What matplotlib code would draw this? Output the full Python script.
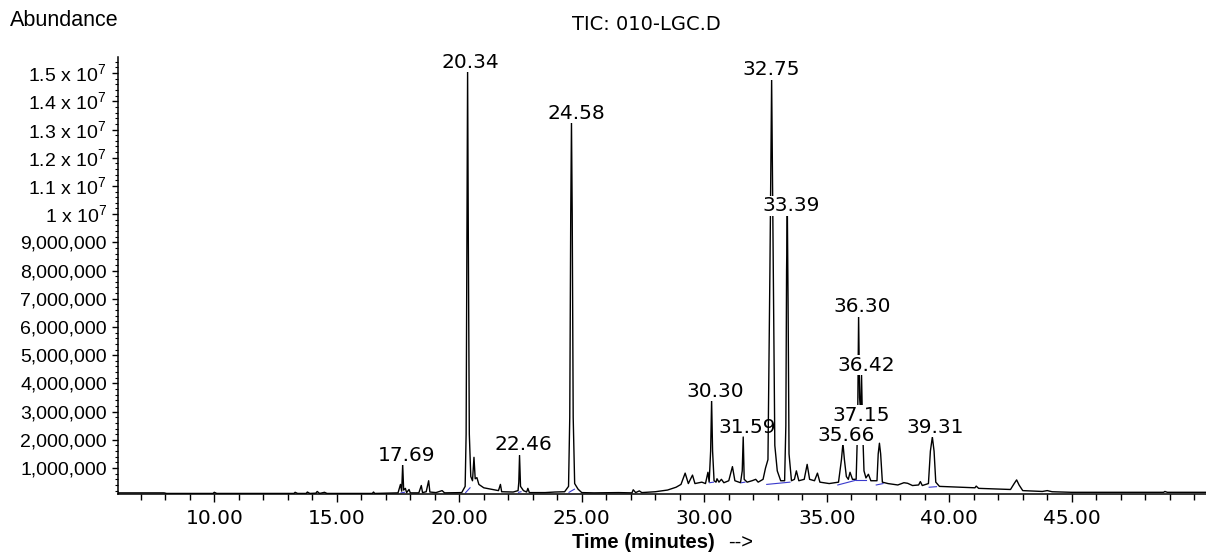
import numpy as np
import matplotlib
matplotlib.use("Agg")
import matplotlib.pyplot as plt
from matplotlib.ticker import MultipleLocator, FixedLocator, FuncFormatter

plt.rcParams['mathtext.fontset'] = 'custom'
plt.rcParams['mathtext.rm'] = 'Liberation Sans'

# TIC trace vertices (time in min, abundance in millions)
trace_time = [6.07, 7.95, 8.05, 9.95, 10.0, 10.1, 13.25, 13.3, 13.4, 13.75, 13.8, 13.9,
              14.15, 14.2, 14.3, 14.5, 14.6, 16.45, 16.5, 16.55, 17.5, 17.6, 17.65, 17.69,
              17.73, 17.8, 17.85, 17.95, 18.0, 18.35, 18.45, 18.5, 18.65, 18.75, 18.8, 19.05,
              19.3, 19.4, 20.1, 20.24, 20.28, 20.31, 20.34, 20.37, 20.41, 20.47, 20.54, 20.6,
              20.65, 20.72, 20.8, 21.0, 21.3, 21.6, 21.68, 21.73, 22.2, 22.4, 22.43, 22.46,
              22.5, 22.62, 22.75, 22.8, 22.86, 23.5, 23.9, 24.3, 24.46, 24.51, 24.55, 24.58,
              24.61, 24.65, 24.71, 24.85, 25.0, 25.5, 26.5, 27.05, 27.1, 27.2, 27.35, 27.45,
              28.0, 28.5, 28.85, 29.05, 29.22, 29.35, 29.52, 29.62, 29.9, 30.05, 30.15, 30.2,
              30.26, 30.3, 30.34, 30.4, 30.48, 30.52, 30.6, 30.7, 30.8, 31.0, 31.15, 31.25,
              31.48, 31.55, 31.59, 31.63, 31.75, 31.95, 32.1, 32.2, 32.4, 32.5, 32.6, 32.68,
              32.75, 32.82, 32.88, 32.98, 33.12, 33.28, 33.33, 33.36, 33.39, 33.42, 33.46, 33.56,
              33.68, 33.76, 33.86, 34.08, 34.2, 34.3, 34.5, 34.62, 34.72, 35.1, 35.48, 35.6,
              35.66, 35.72, 35.8, 35.88, 35.95, 36.05, 36.2, 36.26, 36.3, 36.34, 36.38, 36.42,
              36.46, 36.52, 36.6, 36.7, 36.8, 37.05, 37.1, 37.15, 37.2, 37.27, 37.5, 37.9,
              38.15, 38.3, 38.5, 38.75, 38.82, 38.9, 39.15, 39.23, 39.31, 39.38, 39.45, 39.6,
              40.5, 41.05, 41.1, 41.2, 42.1, 42.5, 42.65, 42.75, 42.85, 43.0, 43.8, 44.0,
              44.2, 45.0, 48.75, 48.8, 48.9, 50.48]
trace_abund = [0.12, 0.12, 0.1, 0.1, 0.14, 0.1, 0.1, 0.14, 0.1, 0.1, 0.15, 0.1,
               0.11, 0.17, 0.1, 0.14, 0.1, 0.1, 0.15, 0.1, 0.12, 0.42, 0.18, 1.13,
               0.22, 0.28, 0.13, 0.24, 0.12, 0.12, 0.38, 0.13, 0.16, 0.55, 0.15, 0.13,
               0.2, 0.12, 0.13, 0.35, 2.2, 9.0, 15.1, 9.0, 2.2, 0.7, 0.55, 1.38,
               0.62, 0.66, 0.42, 0.3, 0.25, 0.2, 0.42, 0.16, 0.15, 0.2, 0.5, 1.45,
               0.35, 0.2, 0.15, 0.28, 0.13, 0.13, 0.15, 0.16, 0.35, 2.8, 10.0, 13.26,
               10.0, 2.8, 0.45, 0.25, 0.13, 0.12, 0.13, 0.12, 0.23, 0.13, 0.19, 0.13,
               0.16, 0.22, 0.32, 0.42, 0.82, 0.45, 0.75, 0.45, 0.5, 0.45, 0.85, 0.5,
               1.6, 3.4, 1.6, 0.55, 0.5, 0.62, 0.5, 0.6, 0.48, 0.55, 1.05, 0.55,
               0.48, 0.9, 2.1, 0.6, 0.5, 0.55, 0.6, 0.5, 0.6, 1.0, 1.3, 8.0,
               14.8, 8.0, 1.8, 0.9, 0.55, 0.55, 2.5, 8.0, 10.25, 7.0, 1.5, 0.55,
               0.6, 0.9, 0.55, 0.6, 1.13, 0.6, 0.55, 0.82, 0.5, 0.45, 0.5, 1.3,
               1.88, 1.3, 0.7, 0.6, 0.85, 0.6, 0.6, 2.5, 6.42, 3.5, 3.0, 4.3,
               2.5, 0.9, 0.65, 0.78, 0.55, 0.55, 1.5, 1.88, 1.5, 0.5, 0.45, 0.4,
               0.48, 0.46, 0.38, 0.4, 0.52, 0.38, 0.45, 1.6, 2.1, 1.6, 0.5, 0.35,
               0.32, 0.3, 0.36, 0.28, 0.25, 0.24, 0.45, 0.58, 0.4, 0.2, 0.17, 0.2,
               0.16, 0.14, 0.14, 0.17, 0.14, 0.14]

# integration baselines (blue ticks under the integrated peaks)
base_t0 = [17.62, 20.26, 22.42, 24.48, 30.22, 31.52, 32.55, 35.45, 36.2, 37.02, 39.18]
base_t1 = [17.76, 20.44, 22.52, 24.70, 30.38, 31.66, 33.50, 36.2, 36.6, 37.30, 39.48]
base_y0 = [0.12, 0.13, 0.14, 0.14, 0.48, 0.48, 0.42, 0.40, 0.57, 0.40, 0.32]
base_y1 = [0.14, 0.30, 0.16, 0.25, 0.50, 0.50, 0.50, 0.57, 0.57, 0.45, 0.34]

# retention time labels and where they sit
peak_labels = ["17.69", "20.34", "22.46", "24.58", "30.30", "31.59", "32.75",
               "33.39", "35.66", "36.30", "36.42", "37.15", "39.31"]
label_t = [17.86, 20.44, 22.60, 24.80, 30.44, 31.74, 32.72, 33.54, 35.78, 36.44, 36.60, 36.39, 39.42]
label_y = [1.46, 15.39, 1.82, 13.58, 3.73, 2.45, 15.11, 10.29, 2.16, 6.71, 4.65, 2.88, 2.45]

x_major = [10, 15, 20, 25, 30, 35, 40, 45]

fig = plt.figure(figsize=(12.06, 5.54), dpi=100)
ax = fig.add_axes([118/1206, 1 - 494/554, 1 - 118/1206, (494 - 57)/554])

ax.plot(trace_time, np.array(trace_abund) * 1e6, color='black', lw=1.0)
for t0, t1, y0, y1 in zip(base_t0, base_t1, base_y0, base_y1):
    ax.plot([t0, t1], [y0 * 1e6, y1 * 1e6], color='#3a3acc', lw=0.8)

for txt, t, y in zip(peak_labels, label_t, label_y):
    box = None
    if txt != "31.59":
        box = dict(facecolor='white', edgecolor='none', pad=0.5)
    ax.text(t, y * 1e6, txt, ha='center', va='center', fontsize=14.5,
            family='DejaVu Sans', color='black', zorder=5, bbox=box)

ax.set_xlim(6.07, 50.48)
ax.set_ylim(0.08e6, 15.57e6)

for s in ['top', 'right']:
    ax.spines[s].set_visible(False)
ax.spines['left'].set_linewidth(1.1)
ax.spines['bottom'].set_linewidth(1.1)

ax.xaxis.set_major_locator(FixedLocator(x_major))
ax.xaxis.set_minor_locator(MultipleLocator(1))
ax.xaxis.set_major_formatter(FuncFormatter(lambda v, p: "%.2f" % v))
ax.yaxis.set_major_locator(FixedLocator(np.arange(1, 16) * 1e6))
ax.yaxis.set_minor_locator(MultipleLocator(2e5))


def yfmt(v, p):
    m = int(round(v / 1e5))
    if m < 100:
        return "{:,}".format(int(round(v)))
    if m == 100:
        return r"1 x 10$^{7}$"
    return r"%.1f x 10$^{7}$" % (v / 1e7)


ax.yaxis.set_major_formatter(FuncFormatter(yfmt))
ax.tick_params(axis='x', which='major', length=6, width=1, pad=5, labelsize=14.5)
ax.tick_params(axis='x', which='minor', length=4, width=1)
ax.tick_params(axis='y', which='major', length=4, width=1, pad=4, labelsize=14)
ax.tick_params(axis='y', which='minor', length=2, width=0.8)
for lb in ax.get_xticklabels():
    lb.set_family('DejaVu Sans')
for lb in ax.get_yticklabels():
    lb.set_family('Liberation Sans')

fig.text(10/1206, 1 - 20/554, "Abundance", ha='left', va='center',
         fontsize=15.5, family='Liberation Sans')
fig.text(646/1206, 1 - 24/554, "TIC: 010-LGC.D", ha='center', va='center',
         fontsize=14, family='DejaVu Sans')
fig.text(715/1206, 1 - 543/554, "Time (minutes)", ha='right', va='center',
         fontsize=14.5, family='Liberation Sans', weight='bold')
fig.text(728/1206, 1 - 543/554, "-->", ha='left', va='center',
         fontsize=14.5, family='Liberation Sans')

fig.savefig("out.png", dpi=100)
